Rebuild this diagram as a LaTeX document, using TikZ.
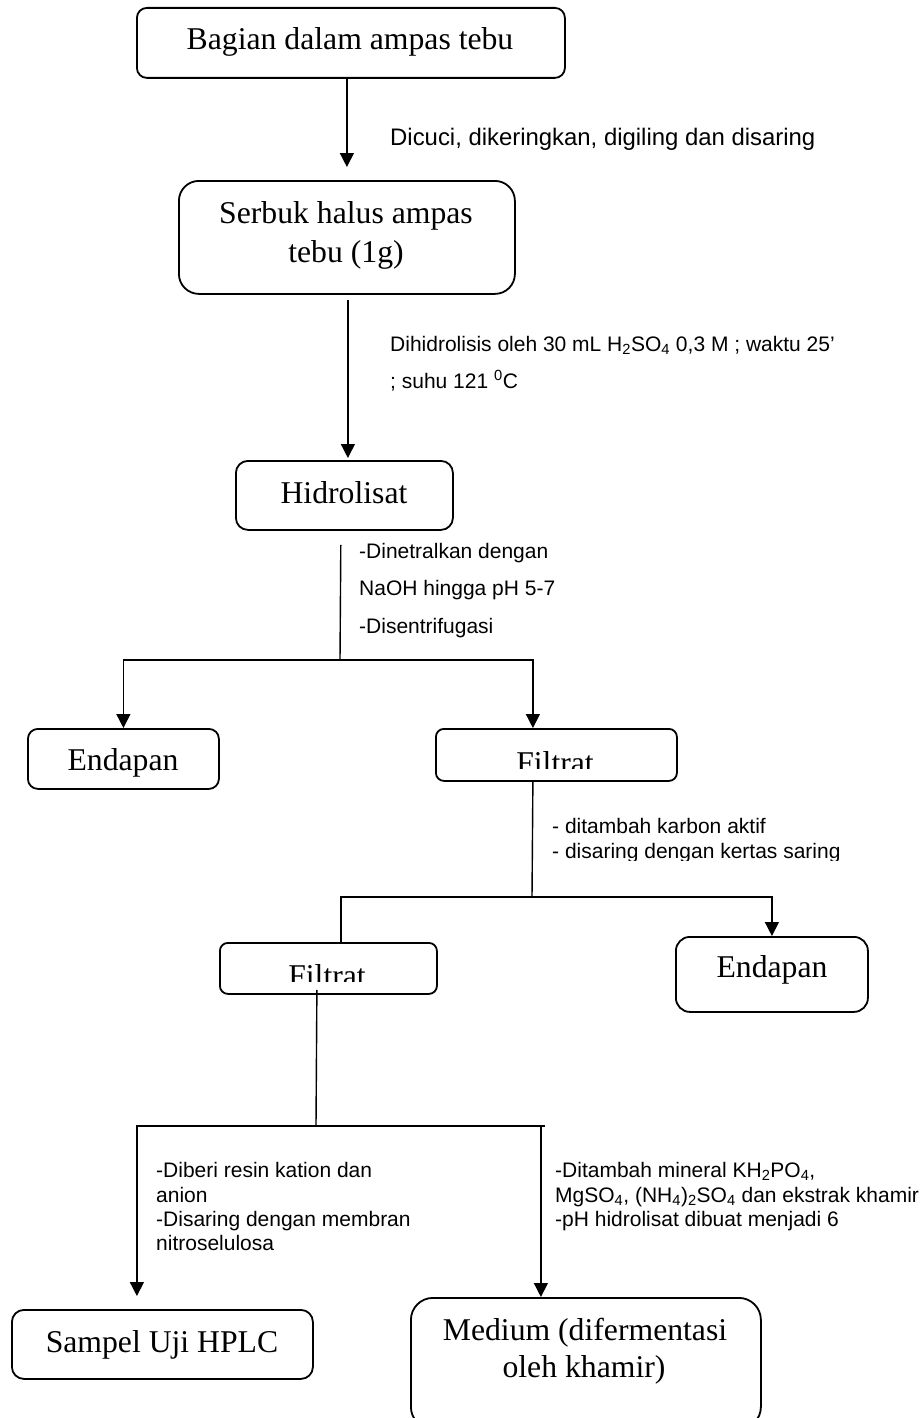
\documentclass[tikz,border=0pt]{standalone}
\usepackage{fontspec}
\setmainfont{Liberation Serif}
\setsansfont{Liberation Sans}
\usetikzlibrary{arrows.meta}
\tikzset{
  box/.style={draw, line width=1.8pt, inner sep=0pt, anchor=north west},
  serif/.style={font=\rmfamily\fontsize{31.7}{39}\selectfont, inner sep=0pt, anchor=base},
  lab/.style={font=\sffamily\fontsize{21}{25}\selectfont, inner sep=0pt, anchor=base west},
  labbig/.style={font=\sffamily\fontsize{23.9}{28}\selectfont, inner sep=0pt, anchor=base west},
  conn/.style={line width=1.4pt},
  arr/.style={conn, -{Triangle[width=14pt,length=14pt]}}
}
\begin{document}
\begin{tikzpicture}[x=1pt,y=-1pt]
\useasboundingbox (0,0) rectangle (921,1418);
% boxes
\node[box, rounded corners=10pt, minimum width=428pt, minimum height=70pt] (b1) at (136,7) {};
\node[box, rounded corners=20pt, minimum width=336pt, minimum height=113pt] (b2) at (178,180) {};
\node[box, rounded corners=12pt, minimum width=217pt, minimum height=69pt] (b3) at (235,460) {};
\node[box, rounded corners=10pt, minimum width=191pt, minimum height=60pt] (b4) at (27,728) {};
\node[box, rounded corners=8pt, minimum width=241pt, minimum height=52pt] (b5) at (435,728) {};
\node[box, rounded corners=8pt, minimum width=217pt, minimum height=51pt] (b6) at (219,942) {};
\node[box, rounded corners=14pt, minimum width=192pt, minimum height=75pt] (b7) at (675,936) {};
\node[box, rounded corners=12pt, minimum width=301pt, minimum height=69pt] (b8) at (11,1309) {};
\node[box, rounded corners=22pt, minimum width=350pt, minimum height=131pt] (b9) at (410,1297) {};
% box texts
\node[serif] (t1) at (350,50) {Bagian dalam ampas tebu};
\node[serif] (t2a) at (346,223) {Serbuk halus ampas};
\node[serif] (t2b) at (346,262) {tebu (1g)};
\node[serif] (t3) at (344,503) {Hidrolisat};
\node[serif] (t4) at (123,770) {Endapan};
\begin{scope}
  \clip (435,728) rectangle (676,768);
  \node[serif] (t5) at (555,773) {Filtrat};
\end{scope}
\begin{scope}
  \clip (219,942) rectangle (436,981);
  \node[serif] (t6) at (327,986) {Filtrat};
\end{scope}
\node[serif] (t7) at (772,977) {Endapan};
\node[serif] (t8) at (162,1352) {Sampel Uji HPLC};
\node[serif] (t9a) at (585,1340) {Medium (difermentasi};
\node[serif] (t9b) at (584,1377) {oleh khamir)};
% labels
\node[labbig] (l1) at (390,146) {Dicuci, dikeringkan, digiling dan disaring};
\node[lab] (l2a) at (390,351) {Dihidrolisis oleh 30 mL H\textsubscript{2}SO\textsubscript{4} 0,3 M ; waktu 25’};
\node[lab] (l2b) at (390,388) {; suhu 121 \textsuperscript{0}C};
\node[lab] (l3a) at (359,558) {-Dinetralkan dengan};
\node[lab] (l3b) at (359,595) {NaOH hingga pH 5-7};
\node[lab] (l3c) at (359,633) {-Disentrifugasi};
\node[lab] (l4a) at (552,833) {- ditambah karbon aktif};
\begin{scope}
  \clip (540,838) rectangle (921,860);
  \node[lab] (l4b) at (552,858) {- disaring dengan kertas saring};
\end{scope}
\node[lab] (l5a) at (156,1177) {-Diberi resin kation dan};
\node[lab] (l5b) at (156,1202) {anion};
\node[lab] (l5c) at (156,1226) {-Disaring dengan membran};
\node[lab] (l5d) at (156,1250) {nitroselulosa};
\node[lab] (l6a) at (555,1177) {-Ditambah mineral KH\textsubscript{2}PO\textsubscript{4},};
\node[lab] (l6b) at (555,1202) {MgSO\textsubscript{4}, (NH\textsubscript{4})\textsubscript{2}SO\textsubscript{4} dan ekstrak khamir};
\node[lab] (l6c) at (555,1226) {-pH hidrolisat dibuat menjadi 6};
% junctions
\coordinate (j1) at (340,660);
\coordinate (j2) at (532,897);
\coordinate (j3) at (316,1126);
\coordinate (j4) at (545,1126);
% connectors
\draw[arr, shorten >=13pt] (b1.south -| b2.north) -- (b2.north);
\draw[arr, shorten <=5pt, shorten >=2pt] ([xshift=3.5pt]b3.north |- b2.south) -- ([xshift=3.5pt]b3.north);
\draw[conn, shorten <=14pt] ([xshift=-3.5pt]b3.south) -- (j1);
\draw[arr] (j1) -| (b4.north);
\draw[arr] (j1) -| ([xshift=-23.5pt]b5.north);
\draw[conn] ([xshift=-23.5pt]b5.south) -- (j2);
\draw[conn] (j2) -| ([xshift=12.5pt]b6.north);
\draw[arr] (j2) -| (b7.north);
\draw[conn] ([xshift=-11.5pt,yshift=5pt]b6.south) -- (j3);
\draw[arr, shorten >=13pt] (j3) -| ([xshift=-25.5pt]b8.north);
\draw[conn] (j3) -- (j4);
\draw[arr] (j3) -| ([xshift=-45pt]b9.north);
\end{tikzpicture}
\end{document}
